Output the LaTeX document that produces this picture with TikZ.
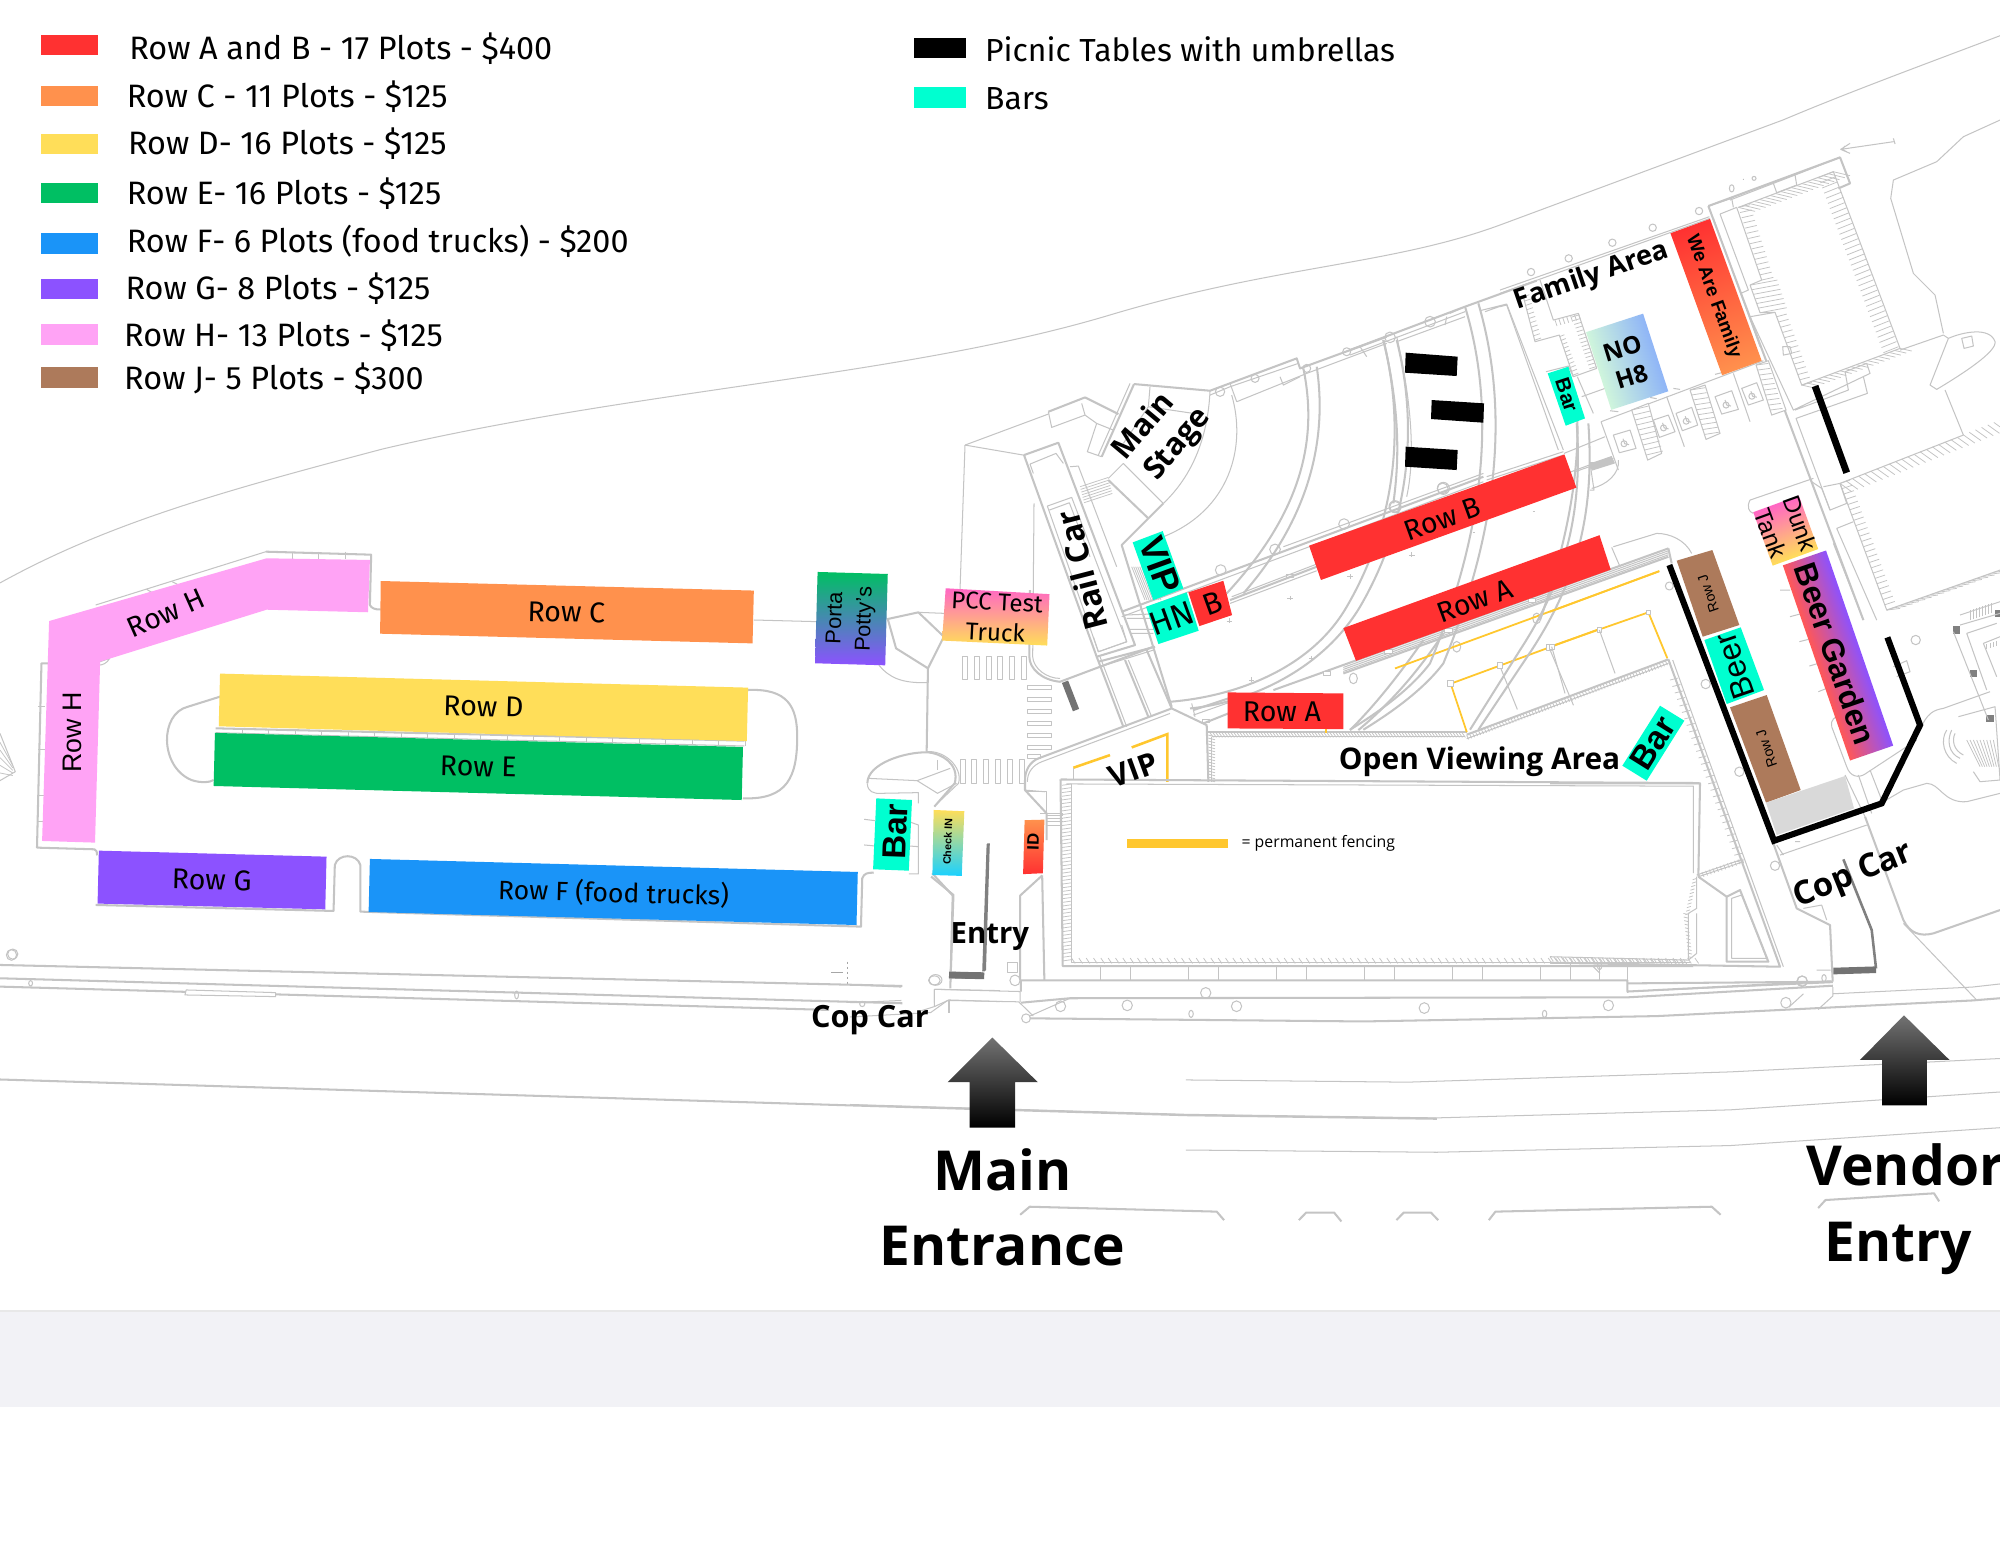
\documentclass[tikz,border=0pt]{standalone}
\usepackage{fontspec}
\setmainfont{Fira Sans}
\newfontfamily\bfont{Open Sans}[UprightFont=* Bold]
\newfontfamily\ofont{Open Sans}
\newfontfamily\afont{Liberation Sans}
\usetikzlibrary{calc}
\definecolor{mapg}{HTML}{C4C4C4}
\definecolor{cred}{HTML}{FF3131}
\definecolor{corange}{HTML}{FF914D}
\definecolor{cyellow}{HTML}{FFDE59}
\definecolor{cgreen}{HTML}{00BF63}
\definecolor{cblue}{HTML}{1A94F8}
\definecolor{cpurple}{HTML}{8C52FF}
\definecolor{cpink}{HTML}{FFA3F5}
\definecolor{cbrown}{HTML}{AD7A5B}
\definecolor{cteal}{HTML}{00FFD0}
\definecolor{cfence}{HTML}{FFC72E}
\definecolor{chot}{HTML}{FF66C4}
\definecolor{ccoral}{HTML}{FF5757}
\definecolor{cband}{HTML}{F2F2F6}
\definecolor{cmint}{HTML}{CFF5DC}
\definecolor{csky}{HTML}{8FB5F7}
\tikzset{
 zii/.style={shift={(705.6,78.4)},x=0.275pt,y=-0.1625pt},
 ziii/.style={shift={(0,431.2)},x=0.25pt,y=-0.13065pt},
 ziv/.style={shift={(666.4,509.6)},x=0.2875pt,y=-0.175pt},
 za/.style={shift={(1176,94.1)},x=0.13067pt,y=-0.13067pt},
 zb/.style={shift={(1215.2,392)},x=0.13067pt,y=-0.13067pt},
 zc/.style={shift={(744.8,266.6)},x=0.13067pt,y=-0.13067pt},
 zd/.style={shift={(1058.4,196)},x=0.13067pt,y=-0.13067pt},
 map/.style={draw=mapg,line width=0.4pt,line join=round},
 mapb/.style={draw=mapg,line width=0.8pt,line join=round},
 hl/.style={draw=mapg,line width=0.3pt},
 plain/.style={inner sep=0pt,font=\fontsize{12.7}{14}\selectfont},
 lab/.style={inner sep=0pt,font=\fontsize{11.2}{13}\selectfont},
 ar/.style={inner sep=0pt,font=\afont\fontsize{10.5}{12}\selectfont},
 arb/.style={inner sep=0pt,font=\afont\bfseries\fontsize{12}{14}\selectfont},
 bl/.style={inner sep=0pt,font=\bfont\fontsize{12}{14}\selectfont},
 swatch/.style={inner sep=0pt,minimum width=22pt,minimum height=8pt},
 fence/.style={draw=black,line width=2.4pt,line join=miter},
 yfence/.style={draw=cfence,line width=0.7pt},
 grayline/.style={draw=black!50,line width=1pt},
 graythick/.style={draw=black!55,line width=2.6pt},
}
\newcommand{\hatchline}[7]{\foreach \i in {0,...,#7}{\pgfmathsetmacro\hx{#1+(#3-(#1))*(\i/#7)}\pgfmathsetmacro\hy{#2+(#4-(#2))*(\i/#7)}\draw[hl] (\hx,\hy) -- ++(#5,#6);}}
\newcommand{\wheel}[2]{\draw[map] ({#1},{#2}) circle (9); \draw[map] ({#1-3},{#2-15}) -- ({#1+2},{#2}) -- ({#1+15},{#2+3});}
\newcommand{\gradbox}[6]{\begin{scope}[transform canvas={shift={(#1,#2)},rotate=#3}]\shade[#6] (-#4pt,-#5pt) rectangle (#4pt,#5pt);\end{scope}}
\begin{document}
\begin{tikzpicture}[x=0.5pt,y=-0.5pt]
\useasboundingbox (0,0) rectangle (1568,1211.3);
\fill[white] (0,0) rectangle (1568,1211.3);
\fill[cband] (0,1028) rectangle (1568,1103);
\draw[draw=black!9,line width=0.6pt] (0,1028) -- (1568,1028);
\clip (0,0) rectangle (1568,1211.3);

%% ---------- base plan
\draw[map] (0,457) .. controls (85,410) and (175,385) .. (300,352) .. controls (500,305) and (710,295) .. (870,247) .. controls (1000,208) and (1090,208) .. (1176,176.4) -- (1398,94) .. controls (1450,72) and (1510,50) .. (1568,28);

% ---- amphitheatre, stage, rail car
\begin{scope}[zc]
 \draw[mapb] (552,132) -- (780,152) -- (1040,55) -- (1050,85) -- (1310,-10);
 \draw[map] (780,165) -- (840,140) -- (1045,70);
 \draw[map] (860,185) -- (1070,100) -- (1310,10);
 \draw[map] (840,130) -- (860,185) (990,110) -- (1000,135) -- (1050,110);
 \draw[map] (810,155) circle (14) (915,115) circle (12) (1070,85) circle (12) (1190,35) circle (12);
 \draw[mapb] (552,132) -- (455,350);
 \draw[map] (540,130) -- (445,345);
 \draw[mapb] (405,172) -- (505,222);
 \draw[mapb] (295,215) -- (405,172);
 \draw[map] (295,215) -- (305,262) -- (405,225) -- (395,190);
 \draw[map] (45,315) -- (295,222);
 \draw[map] (45,315) -- (220,345);
 \draw[map] (45,315) -- (30,750);
 \draw[map] (405,225) -- (440,250) -- (412,335) -- (455,350) (440,250) -- (490,270);
 \draw[map] (600,140) -- (595,200) -- (730,220) (595,200) -- (520,310);
 \draw[mapb] (222,345) -- (325,308) -- (555,915) -- (440,950) -- cycle;
 \draw[map] (240,372) -- (318,340) -- (340,370) (240,372)--(250,400) (430,890) -- (445,935) -- (530,905) -- (515,855);
 \draw[map] (292,498) -- (365,472) -- (530,905) -- (445,935) -- cycle;
 \draw[map] (298,510) -- (358,488) -- (420,650);
 \draw[map] (360,380) -- (385,378) -- (500,680);
 \foreach \k in {0,...,6}{\draw[hl] (390+\k*2,440+\k*8) -- (475+\k*2,412+\k*8);}
 \draw[map] (475,415) -- (520,370) -- (640,490);
 \draw[mapb] (475,420) -- (595,535);
 \draw[map] (780,152) .. controls (775,260) and (745,390) .. (640,490);
 \draw[mapb] (640,490) -- (515,615) -- (665,1100);
 \draw[map] (845,165) .. controls (890,320) and (840,510) .. (640,590);
 \foreach \k in {0,...,8}{\draw[hl] (545+\k*6,680) -- (585+\k*6,780);}
 % arcs
 \draw[mapb] (1060,85) .. controls (1100,280) and (1070,500) .. (830,760);
 \draw[mapb] (1100,80) .. controls (1130,280) and (1090,520) .. (880,760);
 \draw[mapb] (1300,0) .. controls (1370,280) and (1330,560) .. (1190,800) .. controls (1080,990) and (850,1070) .. (660,1085);
 \draw[mapb] (1340,0) .. controls (1410,280) and (1370,560) .. (1230,800) .. controls (1110,1000) and (880,1090) .. (720,1105);
 % diagonals
 \draw[mapb] (515,815) -- (1600,410);
 \draw[map] (515,830) -- (1600,425);
 \draw[map] (1000,620) -- (1600,400);
 \draw[map] (520,825) -- (600,822) (530,835) -- (600,835) (540,868) -- (612,868) (540,880) -- (610,880);
 \draw[mapb] (840,780) -- (1100,680);
 \draw[map] (840,790) -- (1100,692) (845,770) -- (1100,672);
 \draw[map] (1010,703) rectangle (1030,713);
 \foreach \px/\py in {812/690,975/628,1182/552,1335/500,1478/445}{\draw[map] (\px,\py) circle (16);}
 \draw[mapb] (445,965) -- (615,920);
 \draw[map] (450,980) -- (610,930);
 % lower wall and curb
 \draw[mapb] (240,750) -- (238,950) .. controls (238,985) and (275,1020) .. (330,1025) -- (610,920);
 \draw[map] (252,490) -- (248,950) .. controls (250,985) and (290,1015) .. (330,1015);
 \draw[graythick] (345,1025) -- (378,1110);
 \draw[mapb] (440,950) -- (520,1160) (525,960) -- (595,1130) (590,930) -- (665,1105);
 \draw[map] (535,960) -- (605,1130) (450,950) -- (530,1160);
 \draw[mapb] (225,1320) .. controls (225,1290) and (240,1265) .. (265,1255) -- (665,1105) -- (770,1155) -- (775,1325);
 \draw[map] (232,1325) .. controls (232,1295) and (250,1275) .. (275,1265) -- (660,1120);
 \draw[mapb] (225,1320) -- (225,1350) -- (290,1420) -- (290,1500);
 \draw[map] (225,1350) -- (285,1355);
 \draw[mapb] (730,1110) -- (835,1075) (760,1150) -- (835,1120);
 \draw[map] (730,1125) -- (835,1088) (725,1090) -- (735,1130);
 \foreach \px/\py in {767/1143}{\draw[map] (\px-10,\py-5) rectangle (\px+10,\py+5);}
 \draw[mapb] (970,1050) -- (2155,625);
 \draw[mapb] (1180,1000) -- (2155,650);
 \draw[map] (1180,994) -- (2155,644) (1180,988) -- (2155,638) (1180,982) -- (2155,632);
 \foreach \px/\py in {1130/1000,1315/935,1745/782,1495/871}{\draw[map,fill=white] (\px-11,\py-6) rectangle (\px+11,\py+6);}
 \draw[map] (1210,1015) ellipse (12 and 16) (1520,920) ellipse (12 and 16) (1760,835) ellipse (12 and 16);
 \draw[mapb] (1420,900) .. controls (1350,1000) and (1280,1090) .. (1200,1170);
 \draw[mapb] (1480,880) .. controls (1400,1000) and (1320,1090) .. (1225,1170);
 % crosswalks
 \foreach \k in {0,...,5}{\draw[map] (37+\k*35.5,948) rectangle ++(15,70); \draw[map] (30+\k*35.5,1258) rectangle ++(15,72); \draw[map] (232,1035+\k*36) rectangle ++(73,13);}
 \draw[map] (232,1243) rectangle ++(40,13);
 % open viewing edge
 \draw[mapb] (775,1175) -- (1550,1175);
 \draw[map] (785,1190) -- (1545,1190);
 \foreach \k in {0,...,84}{\draw[hl] (780+\k*9,1178) -- (790+\k*9,1192);}
 \draw[map] (785,1190) -- (785,1325);
 \foreach \k in {0,...,15}{\draw[hl] (775,1185+\k*9) -- (795,1190+\k*9);}
 \draw[yfence,line width=1pt] (370,1283) -- (480,1245) (545,1222) -- (652,1182) -- (652,1325);
 \draw[map] (370,1283) -- (370,1320);
 \draw[yfence] (1128,1167) -- (1128,1180);
 \draw[map] (270,1420) -- (340,1420) (290,1425) -- (340,1425) (290,1435) -- (340,1435) (290,1445) -- (340,1445) (290,1455) -- (340,1455);
 % crosses
 \foreach \px/\py in {1020/775,838/843,1200/710,1385/645,1085/955,905/1020}{\draw[hl] (\px-8,\py) -- (\px+8,\py) (\px,\py-8) -- (\px,\py+6);}
 \draw[yfence] (1335,985) -- (2127,694);
\end{scope}
\begin{scope}[zii]
 \draw[yfence] (785,1408) -- (997,1276);
 \draw[yfence] (785,1408) -- (808,1525);
 \draw[map] (855,1365) -- (880,1470) (925,1320) -- (960,1460);
 \foreach \px/\py in {785/1408,855/1365,925/1320}{\draw[map,fill=white] (\px-4,\py-7) rectangle (\px+4,\py+7);}
\end{scope}
\begin{scope}[zd]
 \draw[mapb] (0,300) -- (345,170) -- (560,92);
 \draw[map] (0,315) -- (345,185);
 \draw[map] (140,275) -- (345,200) (290,200) -- (285,225) (30,290) -- (50,320) (300,190) -- (345,170);
 \draw[map] (240,215) circle (16) (120,262) circle (16);
 \draw[mapb] (100,270) .. controls (155,500) and (145,650) .. (130,760);
 \draw[map] (140,260) .. controls (195,500) and (190,650) .. (170,740);
 \draw[mapb] (345,170) .. controls (430,450) and (420,800) .. (240,1240) .. controls (180,1320) and (80,1390) .. (0,1439);
 \draw[mapb] (385,160) .. controls (470,450) and (460,800) .. (280,1240) .. controls (220,1320) and (120,1390) .. (40,1439);
 \draw[mapb] (680,520) .. controls (700,800) and (640,1000) .. (510,1200) -- (360,1439);
 \draw[mapb] (715,520) .. controls (735,800) and (675,1000) .. (545,1200) -- (385,1439);
 \draw[map] (390,182) -- (470,162) -- (640,600) (470,162)-- (405,185);
 \draw[map] (410,680) -- (640,605);
 \draw[map] (410,690) -- (640,615);
 \draw[map] (675,665) -- (790,625);
 \draw[map] (135,770) circle (18) (280,715) circle (18);
 \draw[map] (185,915) -- (195,915) (548,783) -- (556,783) (368,848) -- (376,848);
\end{scope}
% ---- upper right building etc
\begin{scope}[za]
 \draw[map] (0,520) -- (630,295);
 \draw[map] (0,510) -- (628,290);
 \foreach \px/\py in {597/273,458/323,337/368,206/415,93/456}{\draw[map] (\px,\py) circle (11);}
 \draw[mapb] (625,258) -- (1020,112) -- (1050,190) -- (1015,205);
 \draw[map] (625,258) -- (695,235) -- (700,262);
 \draw[map] (690,240) -- (820,190) -- (830,218) -- (890,195) -- (885,165) -- (820,190) (885,165) -- (1020,112);
 \draw[mapb] (625,258) -- (850,860) -- (1090,1500);
 \draw[map] (640,295) -- (780,680);
 \draw[map] (660,282) -- (710,262) -- (785,480) -- (750,495) -- (780,578) -- (825,577) -- (905,795) -- (1200,685);
 \draw[map] (660,282) -- (745,510) -- (722,520);
 \draw[map] (750,590) -- (825,577) (750,590) -- (880,870) -- (1110,760) -- (1100,730) -- (1035,755) -- (1045,810) -- (885,870);
 \draw[map] (1090,770) -- (1102,820) -- (888,895) -- (990,1170) -- (1040,1150) -- (1020,1090) -- (1390,945);
 \draw[map] (848,680) -- (870,680) -- (875,700) -- (850,705) -- cycle;
 % hatch
 \draw[map] (715,262) -- (1000,155) -- (1200,685);
 \hatchline{715}{262}{1000}{155}{50}{12}{18}
 \hatchline{1000}{155}{1195}{680}{-45}{18}{34}
 \hatchline{715}{262}{785}{480}{35}{-8}{14}
 \hatchline{752}{495}{780}{578}{80}{-15}{6}
 \hatchline{830}{590}{905}{795}{30}{-8}{13}
 \hatchline{905}{795}{1200}{685}{35}{8}{18}
 % right edge and blob
 \draw[map] (1500,0) -- (1390,50) -- (1310,125) -- (1180,180) -- (1172,235) -- (1240,460) -- (1305,525) -- (1330,640);
 \draw[map] (1200,690) -- (1330,645) -- (1345,655);
 \draw[map] (1345,655) .. controls (1390,635) and (1470,620) .. (1485,665) .. controls (1490,695) and (1390,760) .. (1310,808) -- (1290,795) -- (1345,655);
 \draw[map] (1335,810) -- (1390,945);
 \draw[map] (1385,655) -- (1415,648) -- (1420,678) -- (1392,685) -- cycle;
 \draw[map] (1022,88) -- (1180,65) (1050,70) -- (1022,88) -- (1050,100) (1035,78) -- (1025,88) -- (1040,95) (1180,55) -- (1185,72);
 \draw[map] (695,205) ellipse (7 and 11) (762,175) circle (6);
 \fill[black!40] (730,178) circle (1.5);
 % lower right building
 \draw[map] (1020,1090) -- (1160,1470) -- (1500,1350);
 \draw[map] (970,1100) -- (1020,1090) (1010,1225) -- (1060,1205) (1010,1225) -- (1130,1500) (940,1075) -- (750,1140) .. controls (740,1160) and (745,1175) .. (760,1180);
 \draw[map] (1000,1270) -- (1090,1500);
 \draw[map] (935,1085) -- (965,1105) -- (990,1170);
 \hatchline{1020}{1090}{1500}{900}{35}{25}{26}
 \hatchline{1020}{1090}{1160}{1470}{30}{-10}{24}
 \hatchline{1160}{1470}{1500}{1350}{40}{-5}{18}
 % family jog
 \draw[map] (20,555) -- (0,560) (20,555) -- (175,990);
 \draw[map] (120,480) -- (160,600) -- (235,580) -- (290,745) -- (220,770) -- (178,645) -- (105,665) -- (70,530);
 \hatchline{70}{530}{105}{660}{18}{-6}{10}
 \hatchline{165}{600}{235}{580}{6}{18}{6}
 \hatchline{235}{585}{288}{740}{-20}{6}{14}
 \hatchline{178}{650}{220}{765}{15}{-6}{10}
 \draw[map] (138,755) -- (205,738) -- (220,770) (245,830) -- (315,805) (232,770) -- (280,880);
 % stalls
 \draw[map] (303,905) -- (790,722);
 \draw[map] (303,905) -- (355,1050) (500,830) -- (553,980) (700,760) -- (750,905);
 \draw[map] (355,1020) .. controls (360,1060) and (320,1095) .. (275,1105) (270,1030) -- (282,1110) -- (270,1110);
 \draw[map] (335,1010) -- (200,1060);
 \draw[map] (192,1000) -- (315,950);
 \fill[mapg] (270,1030) -- (335,1008) -- (345,1030) -- (275,1052) -- cycle;
 \draw[map] (270,1027) rectangle (290,1040);
 \draw[mapb] (232,900) .. controls (235,1000) and (225,1200) .. (120,1500);
 \draw[map] (330,872) -- (355,875) (520,805) -- (540,808) (645,763) -- (665,758) (450,832)--(470,836);
 \foreach \a/\b/\c/\d/\e/\f/\g/\h in {395/870/445/850/485/1000/443/1020,570/810/615/795/660/940/618/958,768/735/805/722/858/870/815/885}{
  \draw[map,fill=white] (\a,\b) -- (\c,\d) -- (\e,\f) -- (\g,\h) -- cycle;
  \foreach \k in {0,...,9}{\draw[hl] ({\a+(\g-\a)*\k/10},{\b+(\h-\b)*\k/10}) -- ({\a+(\g-\a)*\k/10+(\c-\a)},{\b+(\h-\b)*\k/10+(\d-\b)+8});}
 }
 \foreach \a/\b/\c/\d/\e/\f/\g/\h in {340/945/390/930/408/985/358/998,460/900/505/885/525/935/478/952,528/880/575/862/593/915/547/932,645/830/695/812/715/868/665/882,725/805/770/788/790/840/745/855}{
  \draw[map] (\a,\b) -- (\c,\d) -- (\e,\f) -- (\g,\h) -- cycle;
  \wheel{(\a+\e)/2-2}{(\b+\f)/2+6}
 }
 % row A top box
 \draw[map] (340,1280) -- (470,1240) .. controls (510,1240) and (555,1260) .. (575,1300);
 \draw[map] (335,1282) -- (360,1340);
\end{scope}
% ---- south-east side
\begin{scope}[zb]
 \draw[mapb] (355,145) -- (365,190);
 \draw[yfence] (0,335) -- (328,213);
 \draw[yfence] (0,440) -- (295,337) -- (352,475);
 \foreach \px/\py in {148/390,295/337,5/440}{\draw[map,fill=white] (\px-7,\py-7) rectangle (\px+7,\py+7);}
 \draw[map] (148,390) -- (195,520) (5,440) -- (45,580) (358,258) circle (12);
 \draw[mapb] (355,478) -- (-250,704);
 \draw[map] (355,490) -- (-250,716);
 \hatchline{-250}{706}{355}{480}{6}{12}{68}
 \draw[mapb] (355,478) -- (690,1400) -- (0,1388);
 \draw[map] (368,480) -- (700,1400);
 \hatchline{360}{540}{560}{1085}{24}{-6}{28}
 \draw[mapb] (0,850) -- (450,850) -- (445,1130);
 \draw[map] (445,1130) -- (580,1085) (440,1125) -- (570,1080);
 \hatchline{445}{1120}{575}{1075}{6}{14}{12}
 \draw[map] (415,1380) -- (415,1240) -- (440,1225) -- (440,1130);
 \hatchline{418}{1240}{440}{1135}{-12}{4}{10}
 \hatchline{400}{1240}{415}{1370}{12}{3}{12}
 \draw[map] (0,1370) -- (415,1380) -- (440,1360) -- (440,1240);
 \hatchline{0}{1370}{400}{1378}{10}{14}{36}
 \draw[mapb] (445,1130) -- (530,1190) -- (530,1385) -- (655,1385) -- (570,1170) -- (530,1190);
 \draw[map] (545,1195) -- (575,1185) -- (650,1375) -- (545,1375) -- cycle;
 \draw[map] (232,1390) -- (232,1480) (60,1390) -- (60,1440) (0,1440) -- (232,1440);
 \draw[mapb] (232,1450) -- (848,1445);
 \draw[mapb] (670,1030) -- (740,1225) -- (840,1275) -- (848,1445);
 \draw[map] (690,1065) -- (950,975) (680,1035) -- (700,1065) (760,1225) -- (815,1215) -- (830,1260);
 \draw[grayline] (880,1078) -- (965,1290) -- (978,1405);
 \draw[graythick] (850,1413) -- (978,1409);
 \draw[mapb] (945,950) -- (1060,1260) .. controls (1080,1300) and (1110,1310) .. (1150,1300) -- (1350,1230);
 \draw[map] (1060,1270) -- (1280,1500);
 \draw[map] (1000,905) -- (1060,870) -- (1130,850) .. controls (1170,850) and (1180,910) .. (1250,905) -- (1350,880);
 \draw[map] (1110,690) .. controls (1130,640) and (1150,630) .. (1180,625) -- (1320,575);
 \draw[map] (1190,690) .. controls (1170,720) and (1180,770) .. (1220,790) (1205,690) .. controls (1190,720) and (1195,760) .. (1230,775) (1215,700) .. controls (1205,720) and (1210,750) .. (1240,765);
 \foreach \k in {0,...,8}{\draw[hl] (1250+\k*10,720) -- (1290+\k*7,800);}
 \draw[map] (1225,650) -- (1335,620) -- (1350,840) -- (1290,845) -- (1270,815);
 \foreach \px/\py in {1220/390,1270/520,1320/655,1345/340}{\fill[black!50] (\px-11,\py-11) rectangle (\px+11,\py+11);}
 \draw[map] (1210,395) -- (1315,660) (1250,400) -- (1340,370) (1250,400) -- (1310,570);
 \draw[map] (1230,345) -- (1350,305) (1230,375) -- (1350,340);
 \foreach \k in {0,...,7}{\draw[hl] (1262+\k*9,360-\k*3) -- (1262+\k*9,330-\k*3);}
 \draw[map] (1300,430) -- (1350,410) (1300,430) -- (1340,530);
 \hatchline{1310}{432}{1350}{420}{0}{15}{4}
 \draw[map] (1097,420) circle (14) (467,552) circle (14) (568,815) circle (14) (675,1097) circle (14) (757,1443) circle (15);
 \draw[map] (1030,500) -- (1070,482) -- (1080,515) -- (1040,530);
 \draw[map] (845,680) .. controls (840,660) and (855,650) .. (870,645);
 \draw[map] (845,680) -- (890,800) .. controls (900,830) and (925,835) .. (945,822) -- (1100,720);
 \draw[map] (885,825) -- (945,950) (925,825) -- (965,940) (960,810) -- (995,900);
 \draw[map] (690,270) -- (720,270) (720,350) -- (750,342) (748,425) -- (775,418) (778,498) -- (805,490) (805,575) -- (830,565) (842,1410)-- (800,1410) (130,1400) -- (150,1420) (735,1025) -- (750,1025);
\end{scope}
% ---- upper plan left side
\begin{scope}[ziii]
 \draw[mapb] (417,5) -- (582,14) -- (580,165) .. controls (582,175) and (590,180) .. (597,178);
 \draw[map] (417,5) -- (150,165);
 \foreach \px in {458,500,542}{\draw[map] (\px,5) -- (\px,28);}
 \draw[map] (270,95)--(285,110) (230,118)--(245,135);
 \draw[map] (157,335) -- (172,325) .. controls (168,340) and (160,345) .. (157,345);
 \draw[mapb] (75,340) -- (65,340) -- (58,893) -- (148,898) .. controls (155,905) and (150,915) .. (153,915);
 \draw[map] (60,470) -- (70,470) (60,600)--(70,600) (60,738)--(70,738) (60,815)--(70,815);
 \draw[mapb] (150,1065) -- (523,1083) -- (525,945) .. controls (530,910) and (560,910) .. (565,945) -- (565,1085) -- (1350,1130) -- (1352,985) .. controls (1355,970) and (1360,968) .. (1370,968);
 \draw[map] (1425,972) -- (1440,972) -- (1440,825) -- (1425,815) (1355,808) -- (1372,812) (1355,885) -- (1372,888) (1425,888)--(1440,890);
 \draw[mapb] (345,440) -- (295,470) .. controls (250,490) and (250,650) .. (300,690) .. controls (315,700) and (330,697) .. (335,690);
 \draw[mapb] (1173,420) .. controls (1235,415) and (1250,470) .. (1250,560) .. controls (1250,680) and (1235,750) .. (1165,745);
 \draw[mapb] (338,535) -- (1167,572);
 \draw[map] (338,548) -- (1167,588);
 \foreach \i in {0,...,19}{\draw[map] (380+\i*41.5,537+\i*1.9) -- ++(0,14);}
 \draw[map] (1182,210) -- (1282,215);
 \draw[mapb] (1392,207) -- (1440,187) -- (1480,260) -- (1455,355) -- (1405,295) -- cycle;
 \draw[map] (1440,187) -- (1480,190);
 \draw[map] (1378,345) .. controls (1395,385) and (1415,400) .. (1455,398);
 \draw[mapb] (1455,355) -- (1453,605);
 \draw[mapb] (1360,700) .. controls (1360,640) and (1420,605) .. (1455,607) .. controls (1475,610) and (1505,640) .. (1497,700) -- (1465,770);
 \draw[map] (1360,685) -- (1438,692) -- (1490,655);
 \draw[map] (1360,700) .. controls (1360,725) and (1370,732) .. (1382,730) -- (1440,728) -- (1440,760);
 \draw[map] (1453,605) .. controls (1480,600) and (1510,650) .. (1503,700) -- (1470,760);
 \draw[map] (1438,692) -- (1470,730) -- (1500,700);
 \draw[map] (1470,630)--(1470,660);
 \draw[mapb] (1460,980) -- (1495,1035) -- (1490,1315);
 \draw[grayline] (1550,880) -- (1544,1262);
 \draw[graythick] (1490,1275) -- (1542,1277);
 \draw[map] (18,1215) ellipse (8 and 16);
 \draw[map] (1467,1290) ellipse (10 and 16);
 \draw[map] (1465,1318) -- (1568,1322) (1465,1318) -- (1465,1370) -- (1440,1385) (1465,1370)--(1488,1350)--(1568,1355);
 \draw[map] (1488,1350)--(1488,1388);
 \foreach \yy in {1235,1250,...,1300}{\draw[draw=black!35,line width=0.5pt] (1329,\yy) -- (1329,\yy+8);}
 \draw[draw=black!35,line width=0.6pt] (1303,1268) -- (1322,1268);
 % road left
 \draw[mapb] (0,1245) -- (1415,1308);
 \draw[mapb] (0,1285) -- (1415,1360);
 \draw[mapb] (0,1310) -- (1300,1380);
 \draw[map,fill=white] (292,1320) -- (432,1328) -- (432,1340) -- (290,1335) -- cycle;
 \draw[map] (48,1300) ellipse (3 and 8);
 \draw[map] (810,1335) ellipse (3 and 12);
 \draw[map] (1352,1362) ellipse (4 and 8);
\end{scope}
\begin{scope}[ziv]
 % big rectangle west + south
 \draw[mapb] (287,290) -- (1158,298);
 \draw[map] (295,300) -- (1150,305) -- (1150,500);
 \draw[mapb] (287,290) -- (290,708) -- (1150,708);
 \draw[map] (302,300) -- (302,700) -- (1145,700);
 \foreach \i in {0,...,48}{\draw[hl] (302,300+\i*8.2) -- (289,303+\i*8.2);}
 \foreach \i in {0,...,85}{\draw[hl] (302+\i*10,690) -- (307+\i*10,702);}
 \draw[mapb] (262,505) -- (265,740);
 \draw[mapb] (233,765) -- (233,740) -- (1060,740) -- (1060,765) -- (1338,742);
 \draw[map] (240,318) -- (268,318) -- (268,380);
 \foreach \px in {342,382,462,502,582,622,702,742,822,862,942,982,1022}{\draw[map] (\px,708) -- (\px,740);}
 \draw[map] (1060,708) -- (1060,740);
 % entry lanes
 \draw[mapb] (112,500) -- (140,550) -- (137,738);
 \draw[grayline] (188,435) -- (182,720);
 \draw[graythick] (135,728) -- (183,730);
 \draw[mapb] (262,505) -- (232,550) -- (232,740);
 \draw[map] (115,760) -- (232,765) -- (232,788);
 \draw[map] (115,760) -- (115,790) (133,785)-- (230,788) -- (250,820) (133,785) -- (110,812) -- (0,822);
 \draw[map] (0,750) -- (70,755) (0,790) -- (70,785);
 \draw[map] (115,740) ellipse (8 and 10);
 \draw[map] (225,740) ellipse (7 and 12);
 \draw[map] (240,825) ellipse (6 and 10);
 \draw[map] (215,700) rectangle (228,722);
 % road
 \draw[mapb] (233,790) -- (300,780) -- (1060,778) -- (1340,752);
 \draw[mapb] (245,825) -- (700,832) -- (1100,820) -- (1530,785) -- (1568,780);
 \draw[map] (300,780) -- (245,820) (1340,770) -- (1530,755) -- (1568,748);
 \draw[map] (1340,755) -- (1340,775) -- (1320,805) (1300,770)--(1280,800);
 \draw[map] (1060,765) -- (1340,745);
 \draw[map] (0,1018) -- (458,1040) -- (800,1048) -- (1200,1030) -- (1568,990);
 \draw[mapb] (-1159,962) -- (0,1020) -- (458,1042) -- (800,1050);
 \draw[map] (458,963) -- (760,968) -- (1200,945) -- (1568,915);
 \draw[map] (458,1120) -- (800,1125) -- (1200,1110) -- (1568,1070);
 \draw[mapb] (232,1265) -- (245,1247) -- (500,1258) -- (510,1277);
 \draw[mapb] (612,1277) -- (622,1260) -- (660,1260) -- (670,1280);
 \draw[mapb] (745,1277) -- (755,1260) -- (792,1260) -- (802,1277);
 \draw[mapb] (871,1277) -- (880,1258) -- (1175,1247) -- (1187,1265);
 \draw[mapb] (1320,1250) -- (1330,1232) -- (1478,1217) -- (1485,1235);
 \foreach \px/\py in {287/798,378/796,527/798,783/802,1034/796,1276/790,485/768,1298/742}{\draw[map] (\px,\py) ellipse (7 and 12);}
 \foreach \px/\py in {465/815,947/815,1022/708,1328/735}{\draw[map] (\px,\py) ellipse (3 and 8);}
\end{scope}
% far-left hatch fragment
\draw[map] (0,575) -- (12,605) -- (0,612);
\foreach \i in {0,...,4}{\draw[hl] (0,582+\i*6) -- (10,600+\i*2);}
\draw[map] (10,748) circle (4);

%% ---------- coloured plots
\fill[cpink] (209,437.7) -- (290,439) -- (288.5,480) -- (209,478) -- (78.5,518.7) -- (74.5,660.6) -- (33,659.3) -- (38.5,486.9) -- cycle;
\fill[corange] (298.5,455.5) -- (591,463) -- (590,504.4) -- (298,496.8) -- cycle;
\fill[cyellow] (172.5,528.1) -- (586.5,539.1) -- (585.5,581) -- (171.5,569.4) -- cycle;
\fill[cgreen] (168.5,574.6) -- (582.5,585.6) -- (581.5,627.2) -- (167.5,616.2) -- cycle;
\fill[cpurple] (77.5,666.9) -- (256,671.6) -- (255,712.9) -- (76.5,708.4) -- cycle;
\fill[cblue] (290,673.4) -- (672.5,683.6) -- (671.5,725.2) -- (289,715) -- cycle;
\fill[cred] (1026.3,427.8) -- (1226.5,356.3) -- (1235.9,382.3) -- (1035.6,454.7) -- cycle;
\fill[cred] (1053.2,492.4) -- (1254,419.6) -- (1262.8,446.6) -- (1063.1,518.1) -- cycle;
\begin{scope}[zc]
 \fill[cred] (833,1057) -- (1180,1060) -- (1180,1167) -- (833,1165) -- cycle;
 \fill[cred] (715,757) -- (820,722) -- (846,825) -- (748,858) -- cycle;
 \fill[cteal] (588,800) -- (710,757) -- (746,872) -- (625,912) -- cycle;
 \fill[cteal] (548,607) -- (638,573) -- (700,745) -- (610,780) -- cycle;
\end{scope}
\begin{scope}[za]
 \fill[cteal] (143,760) -- (205,740) -- (255,895) -- (197,917) -- cycle;
\end{scope}
\begin{scope}[zb]
 \fill[cbrown] (380,182) -- (487,150) -- (568,375) -- (458,410) -- cycle;
 \fill[cteal] (463,420) -- (572,382) -- (642,570) -- (530,612) -- cycle;
 \fill[cbrown] (540,622) -- (650,585) -- (752,870) -- (648,908) -- cycle;
 \fill[black!15] (648,908) -- (885,828) -- (912,925) -- (680,1005) -- cycle;
 \fill[cteal] (330,617) -- (403,662) -- (290,842) -- (217,797) -- cycle;
\end{scope}
\fill[cteal] (687,625.9) -- (715,627.2) -- (712.5,682.6) -- (684.5,681.5) -- cycle;
% gradient plots
\shade[top color=cgreen,bottom color=cpurple] (641,448.4) -- (696,450) -- (694,521.6) -- (639,520) -- cycle;
\shade[top color=chot,bottom color=cyellow] (741.4,461.2) -- (822.8,465.8) -- (821,506.1) -- (738.6,502.2) -- cycle;
\shade[top color=cyellow,bottom color=cyan!80!blue!90!white] (732,635) -- (756,636) -- (754,686.7) -- (731,686) -- cycle;
\shade[top color=corange,bottom color=cred] (803.3,643) -- (818.8,642.6) -- (817.6,684.6) -- (802.1,685.3) -- cycle;
\gradbox{1345.4}{232.9}{-70}{29.6}{8.25}{left color=cred,right color=corange}
\gradbox{1275.7}{283.6}{18}{11.75}{16}{left color=cmint,right color=csky}
\gradbox{1400}{416}{20}{9.5}{11.15}{top color=chot,bottom color=cyellow}
\gradbox{1441}{513.9}{-71}{40.45}{8.95}{top color=cpurple,bottom color=ccoral}
\node[inner sep=0pt,rotate=-70,font=\afont\bfseries\fontsize{7.4}{9}\selectfont] (t20) at (1343.3,232.6) {We Are Family};
\node[inner sep=0pt,rotate=-71,font=\afont\bfseries\fontsize{12.4}{14}\selectfont] (t26) at (1439,512.5) {Beer Garden};
% tables
\begin{scope}[zd]
 \fill[black] (167,308) -- (323,320) -- (320,378) -- (165,368) -- cycle;
 \fill[black] (245,450) -- (402,460) -- (400,518) -- (243,507) -- cycle;
 \fill[black] (167,590) -- (323,600) -- (320,660) -- (165,650) -- cycle;
\end{scope}
% black fences
\begin{scope}[zb]
 \draw[fence] (358,195) -- (672,1022) -- (995,910) -- (1110,675) -- (1012,412);
\end{scope}
\begin{scope}[za]
 \draw[fence,line width=2.7pt] (945,798) -- (1040,1058);
\end{scope}
% permanent fencing key
\fill[cfence] (883.8,658) rectangle (962.5,665);
% arrows
\shade[top color=black!55,bottom color=black] (778,813.4) -- (813.6,848.4) -- (795.8,848.4) -- (795.8,884) -- (760.1,884) -- (760.1,848.4) -- (742.9,848.4) -- cycle;
\shade[top color=black!55,bottom color=black] (1492.7,796) -- (1528.4,831) -- (1510.6,831) -- (1510.6,866.6) -- (1475.5,866.6) -- (1475.5,831) -- (1458.2,831) -- cycle;

%% ---------- legend
\foreach \nm/\col/\yy in {a/cred/35.5,c/corange/75.2,d/cyellow/112.8,e/cgreen/151.3,f/cblue/191,g/cpurple/226.5,h/cpink/262.2,j/cbrown/296}{\node[swatch,fill=\col] (s\nm) at (54.5,\yy) {};}
\node[swatch,fill=black,minimum width=20.5pt] (sp) at (737,37.6) {};
\node[swatch,fill=cteal,minimum width=20.5pt] (sb) at (737,76.3) {};
\node[plain,anchor=west] (la) at (101,38.5) {Row A and B - 17 Plots - \$400};
\node[plain,anchor=west] (lc) at (99,75.5) {Row C - 11 Plots - \$125};
\node[plain,anchor=west] (ld) at (100,113) {Row D- 16 Plots - \$125};
\node[plain,anchor=west] (le) at (99,151.5) {Row E- 16 Plots - \$125};
\node[plain,anchor=west] (lf) at (99,189.5) {Row F- 6 Plots (food trucks) - \$200};
\node[plain,anchor=west] (lg) at (98,226.5) {Row G- 8 Plots - \$125};
\node[plain,anchor=west] (lh) at (97,263) {Row H- 13 Plots - \$125};
\node[plain,anchor=west] (lj) at (97,296.5) {Row J- 5 Plots - \$300};
\node[inner sep=0pt,anchor=west,font=\fontsize{12.5}{14}\selectfont] (lp) at (772,38.5) {Picnic Tables with umbrellas};
\node[inner sep=0pt,anchor=west,font=\fontsize{12.5}{14}\selectfont] (lb) at (772,77) {Bars};

%% ---------- labels
\node[lab,rotate=24] (t1) at (130,481) {Row H};
\node[ar,rotate=90] (t2) at (57,574) {Row H};
\node[lab,rotate=-1.5] (t3) at (444,480) {Row C};
\node[lab,rotate=-1.5] (t4) at (379,554) {Row D};
\node[lab,rotate=-1.5] (t5) at (375,601) {Row E};
\node[lab,rotate=-1.5] (t6) at (166,690) {Row G};
\node[lab,rotate=-1.5,font=\fontsize{10.4}{13}\selectfont] (t7) at (481,700) {Row F (food trucks)};
\node[lab,rotate=20] (t8) at (1131,407) {Row B};
\node[lab,rotate=20] (t9) at (1156,471) {Row A};
\node[lab] (t10) at (1005,558) {Row A};
\node[lab,rotate=20,font=\fontsize{12}{14}\selectfont] (t11) at (951,473) {B};
\node[lab,rotate=20,font=\fontsize{13}{14}\selectfont] (t12) at (918.6,484.8) {HN};
\node[ar,rotate=88,align=center,font=\afont\fontsize{8.5}{11.5}\selectfont] (t13) at (667,485) {Porta\\Potty’s};
\node[lab,rotate=-3,align=center,font=\fontsize{9.5}{12}\selectfont] (t14) at (781,484) {PCC Test\\Truck};
\node[arb,rotate=-70,font=\afont\bfseries\fontsize{14}{14}\selectfont] (t15) at (909.4,443) {VIP};
\node[bl,rotate=104.5,font=\bfont\fontsize{12.5}{14}\selectfont] (t16) at (848,447) {Rail Car};
\node[bl,rotate=50] (t17) at (895,333) {Main};
\node[bl,rotate=50] (t18) at (923.8,348.9) {Stage};
\node[bl,rotate=19,font=\bfont\fontsize{10.7}{14}\selectfont] (t19) at (1247.9,217) {Family Area};
\node[bl,rotate=17,font=\bfont\fontsize{9.5}{14}\selectfont] (t21) at (1271.9,273.1) {NO};
\node[bl,rotate=17,font=\bfont\fontsize{9.5}{14}\selectfont] (t22) at (1279.2,295.3) {H8};
\node[arb,rotate=-72,font=\afont\bfseries\fontsize{8}{9}\selectfont] (t23) at (1228.3,309.7) {Bar};
\node[ar,rotate=-70,font=\afont\fontsize{9.5}{9}\selectfont] (t24) at (1411.2,410.3) {Dunk};
\node[ar,rotate=-70,font=\afont\fontsize{9.5}{9}\selectfont] (t25) at (1388.2,418) {Tank};
\node[ar,rotate=109,font=\afont\fontsize{12.5}{14}\selectfont] (t27) at (1360,522) {Beer};
\node[ar,rotate=109,font=\afont\fontsize{5.5}{6}\selectfont] (t28) at (1339.3,465.2) {Row J};
\node[ar,rotate=109,font=\afont\fontsize{5.5}{6}\selectfont] (t29) at (1385,586.7) {Row J};
\node[arb,rotate=58,font=\afont\bfseries\fontsize{13}{14}\selectfont] (t30) at (1296,582.8) {Bar};
\node[arb,rotate=88,font=\afont\bfseries\fontsize{13}{14}\selectfont] (t31) at (702,652) {Bar};
\node[arb,rotate=88,font=\afont\bfseries\fontsize{4.2}{6}\selectfont] (t32) at (743,660) {Check IN};
\node[arb,rotate=88,font=\afont\bfseries\fontsize{6.5}{8}\selectfont] (t33) at (810,660) {ID};
\node[bl,font=\bfont\fontsize{11.7}{14}\selectfont] (t34) at (1160,597) {Open Viewing Area};
\node[bl,rotate=20,font=\bfont\fontsize{12}{14}\selectfont] (t35) at (888.5,603.7) {VIP};
\node[bl,font=\bfont\fontsize{12}{14}\selectfont] (t36) at (682,800) {Cop Car};
\node[bl,rotate=22,font=\bfont\fontsize{12.8}{14}\selectfont] (t37) at (1453,687) {Cop Car};
\node[bl,font=\bfont\fontsize{11.5}{14}\selectfont] (t38) at (776,734) {Entry};
\node[bl,font=\bfont\fontsize{21.6}{26}\selectfont] (t39) at (786,917) {Main};
\node[bl,font=\bfont\fontsize{21.6}{26}\selectfont] (t40) at (786,977) {Entrance};
\node[bl,anchor=west,font=\bfont\fontsize{21.6}{26}\selectfont] (t41) at (1416,913) {Vendor};
\node[bl,font=\bfont\fontsize{21.6}{26}\selectfont] (t42) at (1488,979) {Entry};
\node[inner sep=0pt,anchor=west,font=\ofont\fontsize{6.2}{8}\selectfont] (t43) at (973,661) {= permanent fencing};
\end{tikzpicture}
\end{document}
